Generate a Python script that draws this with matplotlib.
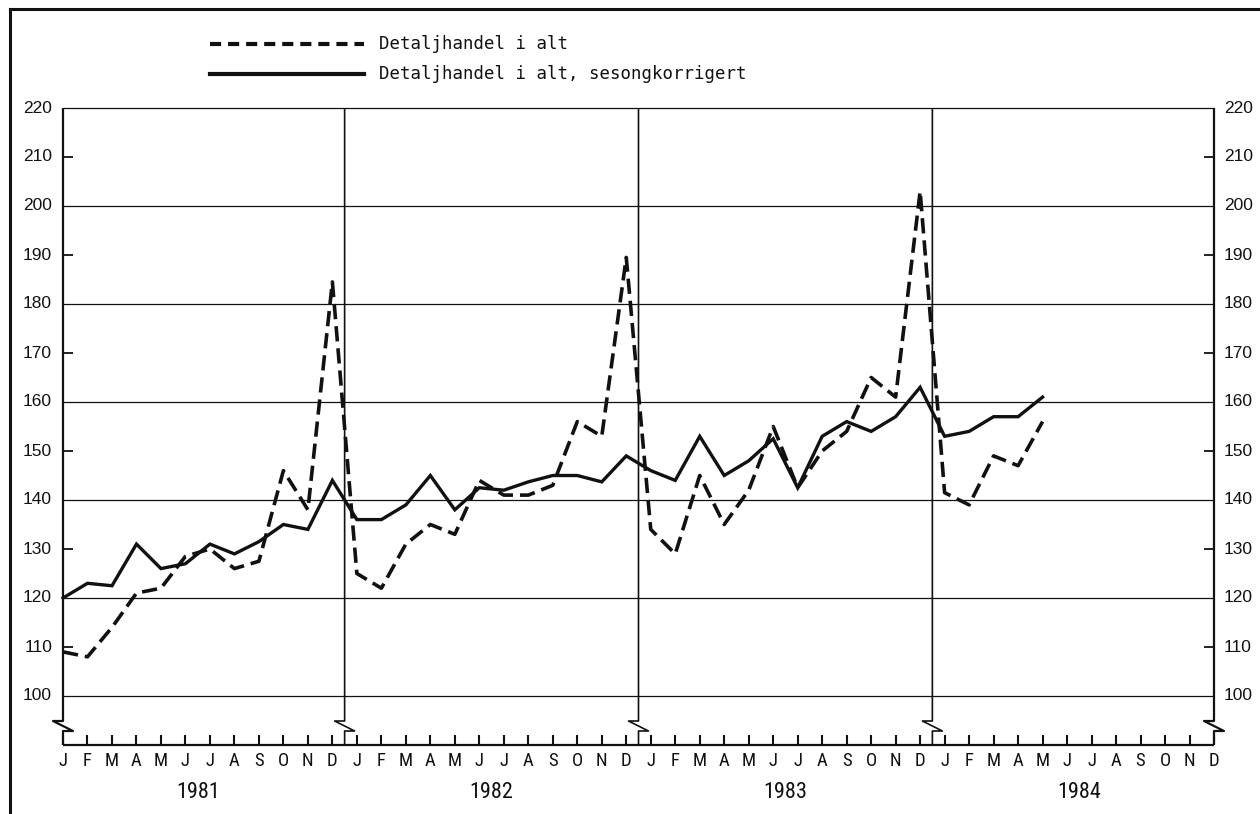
import numpy as np
import matplotlib
matplotlib.use("Agg")
import matplotlib.pyplot as plt  # noqa: E402
from matplotlib.lines import Line2D  # noqa: E402
from matplotlib import font_manager  # noqa: E402

plt.rcParams["lines.scale_dashes"] = False

years = ["1981", "1982", "1983", "1984"]
months = ["J", "F", "M", "A", "M", "J", "J", "A", "S", "O", "N", "D"]

# Detaljhandel i alt, jan 1981 - mai 1984
total = [109, 108, 114, 121, 122, 128.5, 130, 126, 127.5, 146, 138, 184.5,
         125, 122, 131, 135, 133, 144, 141, 141, 143, 156, 153, 189.5,
         134, 129, 145, 135, 142, 155, 142.5, 150, 154, 165, 161, 203,
         141.5, 139, 149, 147, 156]
# Detaljhandel i alt, sesongkorrigert
adjusted = [120, 123, 122.5, 131, 126, 127, 131, 129, 131.5, 135, 134, 144,
            136, 136, 139, 145, 138, 142.5, 142, 143.7, 145, 145, 143.7, 149,
            146, 144, 153, 145, 148, 152.5, 142.5, 153, 156, 154, 157, 163,
            153, 154, 157, 157, 161]

y_major = [100, 120, 140, 160, 180, 200, 220]
y_minor = [110, 130, 150, 170, 190, 210]

# pick a narrow face if one is around
installed = {f.name for f in font_manager.fontManager.ttflist}
narrow = [f for f in ["Liberation Sans Narrow", "DejaVu Sans Condensed",
                      "Roboto Condensed", "Open Sans Condensed"] if f in installed]
narrow_fam = narrow + ["DejaVu Sans"]
narrow_scale = 1.0 if narrow else 0.85

W, H = 1260, 814
ax_l, ax_r, ax_t, ax_b = 63, 1214, 108, 745
fig = plt.figure(figsize=(W / 100, H / 100), dpi=100)
ax = fig.add_axes([ax_l / W, (H - ax_b) / H, (ax_r - ax_l) / W, (ax_b - ax_t) / H])
n_months = len(years) * len(months)
x_max = n_months - 1
y_lo, y_hi = 90, 220
ax.set_xlim(0, x_max)
ax.set_ylim(y_lo, y_hi)
ax.axis("off")

px_x = x_max / (ax_r - ax_l)
px_y = (y_hi - y_lo) / (ax_b - ax_t)
y_base = y_major[0]
brk_top = y_base - 25 * px_y
brk_bot = y_base - 35 * px_y

ink = "#111111"
kw = dict(color=ink, clip_on=False, solid_capstyle="butt")

# gridlines
for v in y_major:
    ax.plot([0, x_max], [v, v], lw=0.9, **kw)
for v in y_minor:
    ax.plot([0, 10 * px_x], [v, v], lw=1.3, **kw)
    ax.plot([x_max - 10 * px_x, x_max], [v, v], lw=1.3, **kw)


def broken_vline(x0, lw):
    xs = [x0, x0, x0 - 10 * px_x, x0 + 10 * px_x, x0, x0]
    ys = [y_hi, brk_top, brk_top, brk_bot, brk_bot, y_lo]
    ax.plot(xs, ys, lw=lw, **kw)


broken_vline(0, 1.6)
broken_vline(x_max, 1.6)
for k in range(1, len(years)):
    broken_vline(k * len(months) - 0.5, 1.2)

# baseline and month ticks
idx = np.arange(n_months)
ax.plot([0, x_max], [y_lo, y_lo], lw=1.6, **kw)
ax.vlines(idx, y_lo, y_lo + 10 * px_y, lw=1.5, color=ink, clip_on=False)

# tick labels
for v in y_major + y_minor:
    ax.text(-11 * px_x, v, str(v), ha="right", va="center", fontsize=12.5,
            family=["Liberation Sans", "DejaVu Sans"], color=ink)
    ax.text(x_max + 10 * px_x, v, str(v), ha="left", va="center", fontsize=12.5,
            family=["Liberation Sans", "DejaVu Sans"], color=ink)
for i in idx:
    ax.text(i, y_base - 65 * px_y, months[i % 12], ha="center", va="center",
            fontsize=13.5 * narrow_scale, family=narrow_fam, color=ink)
for k, yr in enumerate(years):
    ax.text(k * 12 + 5.5, y_base - 96 * px_y, yr, ha="center", va="center",
            fontsize=16 * narrow_scale, family=narrow_fam, color=ink)

# series
ax.plot(idx[:len(total)], total, color=ink, lw=2.6, linestyle=(0, (11, 5)),
        clip_on=False, solid_joinstyle="miter")
ax.plot(idx[:len(adjusted)], adjusted, color=ink, lw=2.4, clip_on=False,
        solid_joinstyle="miter")

# outer frame
fig.add_artist(Line2D([10 / W, 10 / W], [0, 1 - 9 / H], color=ink, lw=2.2))
fig.add_artist(Line2D([10 / W, 1], [1 - 9 / H, 1 - 9 / H], color=ink, lw=2.2))

# legend
leg_items = [("Detaljhandel i alt", (0, (8, 5)), 44),
             ("Detaljhandel i alt, sesongkorrigert", "-", 74)]
for label, ls, ypx in leg_items:
    fig.add_artist(Line2D([210 / W, 364 / W], [1 - ypx / H, 1 - ypx / H],
                          color=ink, lw=3.0, linestyle=ls))
    fig.text(379 / W, 1 - ypx / H, label, ha="left", va="center", fontsize=12.5,
             family=["DejaVu Sans Mono"], color=ink)

fig.savefig("out.png", dpi=100, facecolor="white")
